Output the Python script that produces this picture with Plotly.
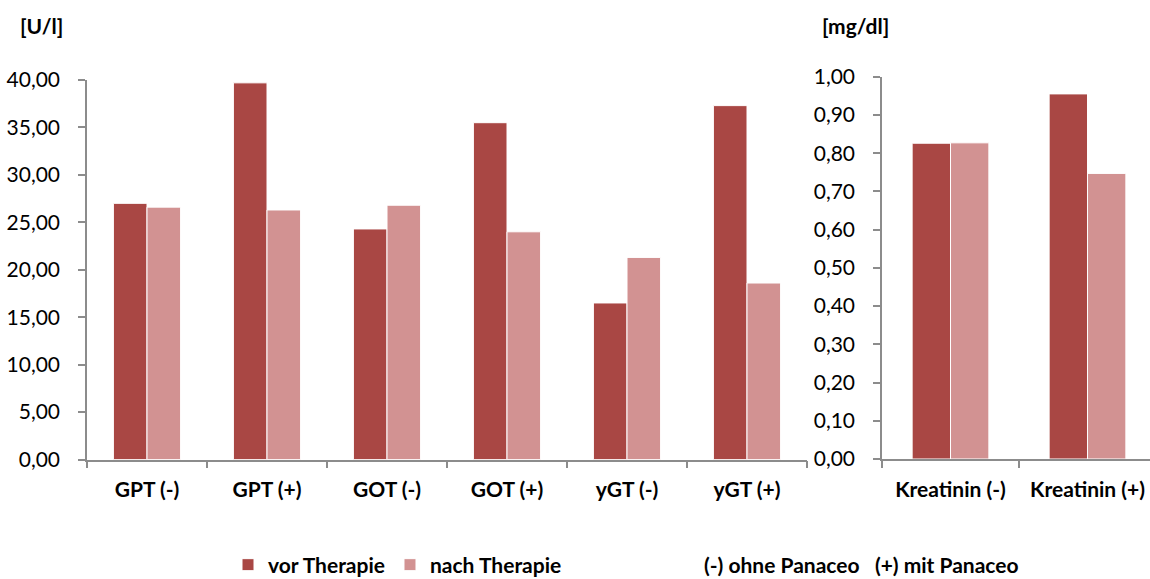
import plotly.graph_objects as go

# Data
cats_left = ["GPT (-)", "GPT (+)", "GOT (-)", "GOT (+)", "yGT (-)", "yGT (+)"]
vor_left = [27.0, 39.7, 24.3, 35.5, 16.5, 37.3]
nach_left = [26.6, 26.3, 26.8, 24.0, 21.3, 18.6]

cats_right = ["Kreatinin (-)", "Kreatinin (+)"]
vor_right = [0.826, 0.955]
nach_right = [0.827, 0.747]

left_ticks = [0, 5, 10, 15, 20, 25, 30, 35, 40]
right_ticks = [0, 0.1, 0.2, 0.3, 0.4, 0.5, 0.6, 0.7, 0.8, 0.9, 1.0]

C_VOR = "#A94744"
C_NACH = "#D29292"
AX = "#8C8C8C"
FONT = "Lato"

W, H = 1150, 579

def px_x(p):
    return p / W

def px_y(p):
    return 1 - p / H

fig = go.Figure()

fig.add_trace(go.Bar(x=cats_left, y=vor_left, name="vor Therapie", marker=dict(color=C_VOR, line=dict(color="white", width=1)), xaxis="x", yaxis="y"))
fig.add_trace(go.Bar(x=cats_left, y=nach_left, name="nach Therapie", marker=dict(color=C_NACH, line=dict(color="white", width=1)), xaxis="x", yaxis="y"))
fig.add_trace(go.Bar(x=cats_right, y=vor_right, name="vor Therapie", showlegend=False, marker=dict(color=C_VOR, line=dict(color="white", width=1)), xaxis="x2", yaxis="y2"))
fig.add_trace(go.Bar(x=cats_right, y=nach_right, name="nach Therapie", showlegend=False, marker=dict(color=C_NACH, line=dict(color="white", width=1)), xaxis="x2", yaxis="y2"))

xcommon = dict(showline=True, linecolor=AX, linewidth=1.5, ticks="outside", tickson="boundaries",
               ticklen=7, tickcolor=AX, tickwidth=1.5, showgrid=False, zeroline=False, automargin=False,
               tickfont=dict(family=FONT, size=21, color="black", weight="bold"), ticklabelstandoff=11)
ycommon = dict(showline=True, linecolor=AX, linewidth=1.5, ticks="outside", ticklen=7, tickcolor=AX,
               tickwidth=1.5, showgrid=False, zeroline=False, tickformat=".2f", automargin=False,
               tickfont=dict(family=FONT, size=21, color="black"), ticklabelstandoff=14)

fig.update_layout(
    width=W, height=H,
    margin=dict(l=0, r=0, t=0, b=0, autoexpand=False),
    paper_bgcolor="white", plot_bgcolor="white",
    separators=", ",
    barmode="group", bargap=0.44, bargroupgap=0.0,
    xaxis=dict(domain=[px_x(87), px_x(807)], anchor="y", range=[-0.5, 5.5], **xcommon),
    yaxis=dict(domain=[px_y(459.5), px_y(80)], anchor="x", range=[0, 40], tickvals=left_ticks, **ycommon),
    xaxis2=dict(domain=[px_x(882), 1.0], anchor="y2", range=[-0.5, 1.5 - 6 / 137], **xcommon),
    yaxis2=dict(domain=[px_y(459), px_y(76.7)], anchor="x2", range=[0, 1.0], tickvals=right_ticks, **ycommon),
    legend=dict(orientation="h", x=px_x(228), y=px_y(565), xanchor="left", yanchor="middle",
                font=dict(family=FONT, size=21, color="black", weight="bold"), itemwidth=30,
                tracegroupgap=0, bgcolor="rgba(0,0,0,0)"),
    annotations=[
        dict(text="<b>[U/l]</b>", x=px_x(41.5), y=px_y(25), xref="paper", yref="paper", showarrow=False,
             xanchor="center", yanchor="middle", font=dict(family=FONT, size=21, color="black")),
        dict(text="<b>[mg/dl]</b>", x=px_x(855), y=px_y(25), xref="paper", yref="paper", showarrow=False,
             xanchor="center", yanchor="middle", font=dict(family=FONT, size=21, color="black")),
        dict(text="<b>(-) ohne Panaceo   (+) mit Panaceo</b>", x=px_x(861), y=px_y(564), xref="paper", yref="paper",
             showarrow=False, xanchor="center", yanchor="middle", font=dict(family=FONT, size=21, color="black")),
    ],
)

fig.write_html("out.html", config={"displayModeBar": False},
               post_script="document.body.style.margin='0';document.body.style.overflow='hidden';")
